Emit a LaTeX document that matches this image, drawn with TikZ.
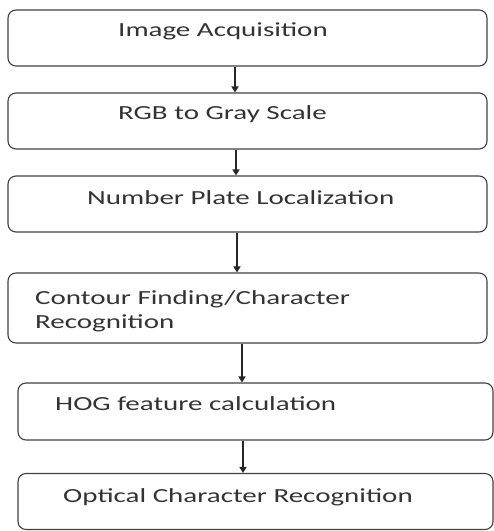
\documentclass[tikz,border=0pt]{standalone}
\usepackage{fontspec}
\setmainfont[FakeStretch=1.45]{Carlito}
\usetikzlibrary{arrows.meta}
\begin{document}
\begin{tikzpicture}[x=1pt, y=-1pt,
		box/.style={draw=black!75, line width=1.1pt, rounded corners=8pt, inner sep=0},
		caption/.style={anchor=west, inner sep=0, align=left, text=black!80,
			font=\fontsize{20}{24}\selectfont},
		flow/.style={draw=black!85, line width=1.6pt, -{Triangle[width=7pt,length=6pt]}},
	]
	\useasboundingbox (0,0) rectangle (494,531);
	\node[box, minimum width=479pt, minimum height=56pt] (box1) at (247.5,38) {};
	\node[box, minimum width=479pt, minimum height=56pt] (box2) at (247.5,121) {};
	\node[box, minimum width=479pt, minimum height=56pt] (box3) at (247.5,204) {};
	\node[box, minimum width=479pt, minimum height=70pt] (box4) at (247.5,308) {};
	\node[box, minimum width=475pt, minimum height=57pt] (box5) at (255.5,411.5) {};
	\node[box, minimum width=475pt, minimum height=56pt] (box6) at (255.5,501.5) {};
	\node[caption] (text1) at (118,31) {Image Acquisition};
	\node[caption] (text2) at (118,114) {RGB to Gray Scale};
	\node[caption] (text3) at (87,198) {Number Plate Localization};
	\node[caption] (text4) at (35,311) {Contour Finding/Character\\Recognition};
	\node[caption] (text5) at (55,404) {HOG feature calculation};
	\node[caption] (text6) at (63,497) {Optical Character Recognition};
	\draw[flow] (box1.south -| 235,0) -- (box2.north -| 235,0);
	\draw[flow] (box2.south -| 236,0) -- (box3.north -| 236,0);
	\draw[flow] (box3.south -| 237,0) -- (box4.north -| 237,0);
	\draw[flow] (box4.south -| 242,0) -- (box5.north -| 242,0);
	\draw[flow] (box5.south -| 243,0) -- (box6.north -| 243,0);
\end{tikzpicture}
\end{document}
